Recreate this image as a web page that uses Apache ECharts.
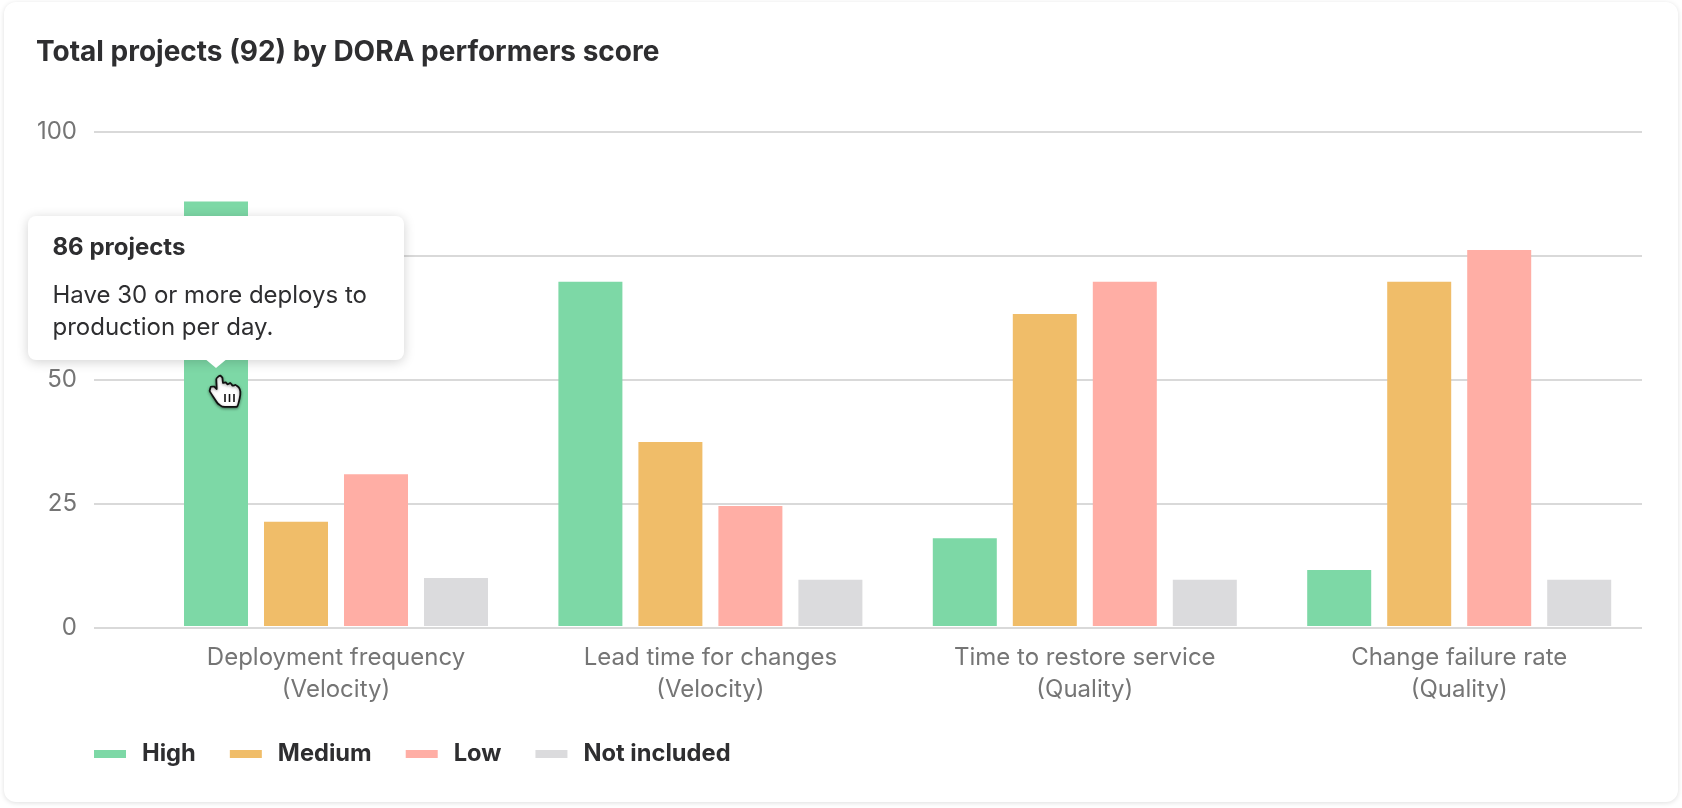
<!DOCTYPE html>
<html><head><meta charset="utf-8">
<style>
html,body{margin:0;padding:0;background:#fff;width:1682px;height:808px;overflow:hidden}
#card{position:absolute;left:4px;top:2px;width:1674px;height:800px;border-radius:12px;background:#fff;box-shadow:0 1px 5px rgba(0,0,0,.13)}
#c{position:absolute;left:0;top:0;width:1682px;height:808px}
</style></head><body>
<div id="card"></div><div id="c"></div>
<script src="https://cdn.jsdelivr.net/npm/echarts@6/dist/echarts.min.js"></script>
<script>
const titleText = 'Total projects (92) by DORA performers score';
const categories = ['Deployment frequency\n(Velocity)','Lead time for changes\n(Velocity)','Time to restore service\n(Quality)','Change failure rate\n(Quality)'];
const high = [86, 69.8, 18.1, 11.7];
const medium = [21.4, 37.5, 63.3, 69.8];
const low = [31, 24.6, 69.8, 76.2];
const notIncluded = [10.1, 9.7, 9.7, 9.7];
const seriesNames = ['High','Medium','Low','Not included'];
const colors = ['#7dd8a6','#f0bd69','#ffaea5','#dbdbdd'];
const FONT = 'Inter';
const dark = '#2e2e30';
const grey = '#757575';
const chart = echarts.init(document.getElementById('c'), null, {renderer:'canvas'});
const mk = (name, data, color) => ({name, type:'bar', xAxisIndex:0, yAxisIndex:0, data, barWidth:64, barGap:'25%',
  itemStyle:{color}, emphasis:{disabled:true}, silent:true});
const hand = [[70,65],[76,62],[82,68],[84,84],[92,82],[98,88],[106,84],[113,92],[122,90],[132,98],[136,110],[134,130],[126,155],[82,155],[68,145],[44,108],[48,95],[58,95],[65,102],[64,72]]
  .map(p=>[195+p[0]/3,355+p[1]/3]);
const tick = (x)=>({type:'line',z:203,shape:{x1:x,y1:394,x2:x,y2:402},style:{stroke:'#111',lineWidth:1.6}});
chart.setOption({
  animation:false,
  textStyle:{fontFamily:FONT},
  title:{text:titleText,left:31,top:34,textStyle:{fontFamily:FONT,fontSize:28,fontWeight:700,color:dark}},
  legend:{left:89,top:737,itemWidth:32,itemHeight:8,itemGap:34,icon:'rect',selectedMode:false,data:seriesNames,
    textStyle:{fontFamily:FONT,fontSize:23.7,fontWeight:700,color:dark,padding:[0,0,0,11]}},
  grid:[
    {left:148.8,top:132,width:1497.6,height:494},
    {left:94,top:132,width:1548,height:496}
  ],
  xAxis:[
    {gridIndex:0,type:'category',data:categories,axisLine:{show:false},axisTick:{show:false},
     axisLabel:{margin:16,fontFamily:FONT,fontSize:24,lineHeight:32,color:grey}},
    {gridIndex:1,type:'value',show:false,min:0,max:1}
  ],
  yAxis:[
    {gridIndex:0,type:'value',min:0.4,max:100,show:false,splitLine:{show:false}},
    {gridIndex:1,type:'value',min:0,max:100,interval:25,axisLine:{show:false},axisTick:{show:false},
     axisLabel:{margin:17,fontFamily:FONT,fontSize:24,color:grey},
     splitLine:{lineStyle:{color:'#d9d9d9',width:2}}}
  ],
  series:[mk(seriesNames[0],high,colors[0]),mk(seriesNames[1],medium,colors[1]),mk(seriesNames[2],low,colors[2]),mk(seriesNames[3],notIncluded,colors[3])],
  graphic:{elements:[
    {type:'polygon',z:200,shape:{points:[[204,358],[228,358],[216,368]]},style:{fill:'#fff'}},
    {type:'rect',z:199,shape:{x:28,y:216,width:376,height:144,r:8},style:{fill:'#fff',shadowBlur:12,shadowColor:'rgba(0,0,0,.18)',shadowOffsetY:2}},
    {type:'text',z:201,x:52.5,y:248,style:{text:'86 projects',font:'700 24px '+FONT,fill:dark,textVerticalAlign:'middle'}},
    {type:'text',z:201,x:52.5,y:296,style:{text:'Have 30 or more deploys to',font:'400 24px '+FONT,fill:dark,textVerticalAlign:'middle'}},
    {type:'text',z:201,x:52.5,y:328,style:{text:'production per day.',font:'400 24px '+FONT,fill:dark,textVerticalAlign:'middle'}},
    {type:'polygon',z:202,shape:{points:hand,smooth:0.1},style:{fill:'#fff',stroke:'#111',lineWidth:1.8,shadowBlur:3,shadowColor:'rgba(0,0,0,.4)',shadowOffsetY:1}},
    tick(225),tick(229.5),tick(234)
  ]}
});
</script>
</body></html>
